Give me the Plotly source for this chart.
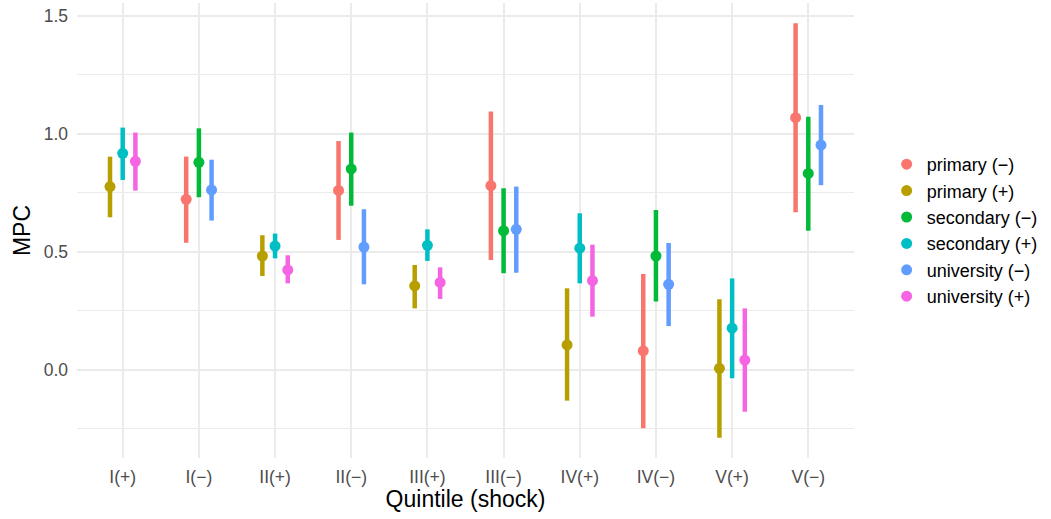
import plotly.graph_objects as go

# Quintile/shock categories along the x axis
categories = ["I(+)", "I(−)", "II(+)", "II(−)", "III(+)", "III(−)",
              "IV(+)", "IV(−)", "V(+)", "V(−)"]

# Estimates and confidence bounds, one value per quintile (I..V)
primary_neg_est = [0.723, 0.761, 0.781, 0.081, 1.069]
primary_neg_lo = [0.539, 0.551, 0.466, -0.247, 0.668]
primary_neg_hi = [0.904, 0.970, 1.095, 0.407, 1.469]

primary_pos_est = [0.777, 0.483, 0.356, 0.106, 0.007]
primary_pos_lo = [0.647, 0.398, 0.261, -0.130, -0.287]
primary_pos_hi = [0.904, 0.571, 0.445, 0.346, 0.300]

secondary_neg_est = [0.880, 0.852, 0.590, 0.483, 0.833]
secondary_neg_lo = [0.732, 0.696, 0.410, 0.290, 0.590]
secondary_neg_hi = [1.024, 1.006, 0.770, 0.678, 1.073]

secondary_pos_est = [0.918, 0.525, 0.528, 0.516, 0.177]
secondary_pos_lo = [0.805, 0.473, 0.462, 0.367, -0.035]
secondary_pos_hi = [1.027, 0.578, 0.596, 0.664, 0.388]

university_neg_est = [0.763, 0.521, 0.596, 0.363, 0.953]
university_neg_lo = [0.633, 0.363, 0.412, 0.186, 0.783]
university_neg_hi = [0.891, 0.681, 0.777, 0.538, 1.123]

university_pos_est = [0.884, 0.424, 0.371, 0.379, 0.042]
university_pos_lo = [0.760, 0.367, 0.301, 0.226, -0.177]
university_pos_hi = [1.006, 0.486, 0.435, 0.531, 0.261]

# name, estimates, lower, upper, shock sign (0 = "+", 1 = "−"), dodge slot, colour
series = [
    ("primary (−)", primary_neg_est, primary_neg_lo, primary_neg_hi, 1, -1, "#F8766D"),
    ("primary (+)", primary_pos_est, primary_pos_lo, primary_pos_hi, 0, -1, "#B79F00"),
    ("secondary (−)", secondary_neg_est, secondary_neg_lo, secondary_neg_hi, 1, 0, "#00BA38"),
    ("secondary (+)", secondary_pos_est, secondary_pos_lo, secondary_pos_hi, 0, 0, "#00BFC4"),
    ("university (−)", university_neg_est, university_neg_lo, university_neg_hi, 1, 1, "#619CFF"),
    ("university (+)", university_pos_est, university_pos_lo, university_pos_hi, 0, 1, "#F564E3"),
]

dodge = 0.5 / 3

fig = go.Figure()
for name, est, lo, hi, sign, slot, color in series:
    xs = [2 * q + sign + slot * dodge for q in range(len(est))]
    fig.add_trace(go.Scatter(
        x=xs, y=est, mode="markers", name=name,
        marker=dict(color=color, size=11),
        error_y=dict(type="data", symmetric=False,
                     array=[h - e for h, e in zip(hi, est)],
                     arrayminus=[e - l for e, l in zip(est, lo)],
                     color=color, thickness=4.5, width=0),
    ))

fig.add_shape(type="line", xref="paper", x0=0, x1=1, yref="y", y0=0, y1=0,
              line=dict(color="#7F7F7F", width=1.3, dash="8px,5px"), layer="below")

font = "Liberation Sans, Arial, sans-serif"
fig.update_layout(
    width=1051, height=519,
    margin=dict(l=77, r=197, t=3, b=61),
    plot_bgcolor="white", paper_bgcolor="white",
    font=dict(family=font, color="#000000"),
    showlegend=True,
    legend=dict(x=1.042, xanchor="left", y=0.5, yanchor="middle",
                font=dict(size=18, color="#000000"), tracegroupgap=0,
                itemwidth=30),
    xaxis=dict(
        range=[-0.6, 9.6], tickmode="array", tickvals=list(range(10)),
        ticktext=categories, showgrid=True, gridcolor="#EBEBEB", gridwidth=2.2,
        zeroline=False, showline=False, ticks="", ticklabelstandoff=6,
        tickfont=dict(size=17.5, color="#4D4D4D"),
        title=dict(text="Quintile (shock)", font=dict(size=23), standoff=4),
    ),
    yaxis=dict(
        range=[-0.373, 1.555], tickmode="array", tickvals=[0, 0.5, 1.0, 1.5],
        ticktext=["0.0", "0.5", "1.0", "1.5"],
        showgrid=True, gridcolor="#EBEBEB", gridwidth=2.2,
        minor=dict(tickvals=[-0.25, 0.25, 0.75, 1.25], showgrid=True,
                   gridcolor="#EBEBEB", gridwidth=1),
        zeroline=False, showline=False, ticks="", ticklabelstandoff=8,
        tickfont=dict(size=17.5, color="#4D4D4D"),
        title=dict(text="MPC", font=dict(size=23), standoff=6),
    ),
)

fig.write_html("out.html")
